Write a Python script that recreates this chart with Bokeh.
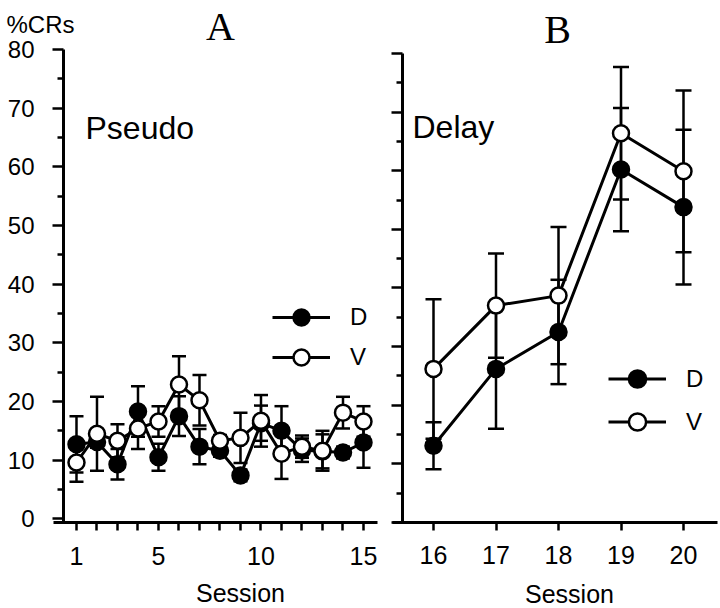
from bokeh.plotting import figure
from bokeh.models import (ColumnDataSource, Whisker, TeeHead, FixedTicker, Label,
                          Legend, LegendItem, Range1d)
from bokeh.layouts import row
from bokeh.embed import file_html
from bokeh.resources import INLINE

# ---- data ----
sessions_a = list(range(1, 16))
d_a = [12.7, 13.1, 9.3, 18.3, 10.5, 17.5, 12.3, 11.6, 7.4, 16.3, 15.0, 11.7, 11.5, 11.3, 13.0]
d_a_err = [4.8, 1.0, 2.6, 4.3, 2.3, 3.4, 3.0, 1.0, 1.0, 3.0, 4.2, 2.0, 2.9, 1.0, 4.3]
v_a = [9.6, 14.5, 13.3, 15.4, 16.6, 22.9, 20.2, 13.3, 13.8, 16.7, 11.1, 12.3, 11.6, 18.1, 16.6]
v_a_err = [3.3, 6.3, 2.8, 3.5, 2.6, 4.8, 4.3, 1.0, 4.3, 4.4, 4.3, 1.9, 3.4, 2.7, 2.6]

sessions_b = [16, 17, 18, 19, 20]
d_b = [13.1, 26.2, 32.5, 60.2, 53.8]
d_b_err = [4.0, 10.2, 8.9, 10.5, 13.2]
v_b = [26.2, 37.0, 38.7, 66.4, 59.9]
v_b_err = [11.9, 8.9, 11.7, 11.3, 13.8]

y_ticks = [0, 10, 20, 30, 40, 50, 60, 70, 80]
y_minor = [5, 15, 25, 35, 45, 55, 65, 75]
x_labels_a = [1, 5, 10, 15]

SANS = "Liberation Sans"
SERIF = "Liberation Serif"
LW = 3


def make_fig(w, h, xr, yr, yaxis_at, ybounds, xaxis_at, xbounds):
    p = figure(width=w, height=h, x_range=Range1d(*xr), y_range=Range1d(*yr),
               min_border=0, min_border_left=0, min_border_right=0,
               min_border_top=0, min_border_bottom=0,
               output_backend="svg", toolbar_location=None)
    p.outline_line_color = None
    p.xgrid.visible = False
    p.ygrid.visible = False
    p.background_fill_color = "white"
    p.border_fill_color = "white"
    for ax in (p.xaxis[0], p.yaxis[0]):
        ax.axis_line_width = LW
        ax.axis_line_color = "black"
        ax.major_tick_line_width = 2.5
        ax.minor_tick_line_width = 2.5
        ax.major_tick_line_color = "black"
        ax.minor_tick_line_color = "black"
        ax.major_tick_in = 0
        ax.minor_tick_in = 0
        ax.major_label_text_font = SANS
        ax.major_label_text_color = "black"
    p.yaxis.fixed_location = yaxis_at
    p.yaxis.bounds = ybounds
    p.xaxis.fixed_location = xaxis_at
    p.xaxis.bounds = xbounds
    p.yaxis.ticker = FixedTicker(ticks=y_ticks, minor_ticks=y_minor)
    p.yaxis.major_tick_out = 11
    p.yaxis.minor_tick_out = 6
    p.yaxis.major_label_text_font_size = "24px"
    p.yaxis.major_label_standoff = 18
    p.xaxis.major_tick_out = 8
    p.xaxis.minor_tick_out = 8
    p.xaxis.major_label_text_font_size = "25px"
    p.xaxis.major_label_standoff = 16
    return p


def add_series(p, xs, d, de, v, ve, cap):
    src_d = ColumnDataSource(dict(x=xs, y=d, up=[a + b for a, b in zip(d, de)],
                                  lo=[a - b for a, b in zip(d, de)]))
    src_v = ColumnDataSource(dict(x=xs, y=v, up=[a + b for a, b in zip(v, ve)],
                                  lo=[a - b for a, b in zip(v, ve)]))
    for src in (src_d, src_v):
        w = Whisker(source=src, base="x", upper="up", lower="lo", dimension="height",
                    line_width=2.5, line_color="black",
                    upper_head=TeeHead(size=cap, line_width=2.5, line_color="black"),
                    lower_head=TeeHead(size=cap, line_width=2.5, line_color="black"))
        p.add_layout(w)
    ld = p.line("x", "y", source=src_d, line_width=LW, line_color="black")
    lv = p.line("x", "y", source=src_v, line_width=LW, line_color="black")
    sd = p.scatter("x", "y", source=src_d, size=16, marker="circle",
                   fill_color="black", line_color="black", line_width=2.5)
    sv = p.scatter("x", "y", source=src_v, size=16, marker="circle",
                   fill_color="white", line_color="black", line_width=2.5)
    return ld, lv, sd, sv


def add_legend(p, rs, loc, gh):
    ld, lv, sd, sv = rs
    leg = Legend(items=[LegendItem(label="D", renderers=[ld, sd]),
                        LegendItem(label="V", renderers=[lv, sv])],
                 location=loc, orientation="vertical",
                 glyph_width=58, glyph_height=gh, label_height=gh,
                 label_standoff=20, spacing=0, padding=0, margin=0,
                 border_line_color=None, background_fill_alpha=0,
                 label_text_font=SANS, label_text_font_size="24px",
                 label_text_color="black")
    p.add_layout(leg)


def text(p, x, y, t, font, size, align="left"):
    p.add_layout(Label(x=x, y=y, x_units="screen", y_units="screen", text=t,
                       text_font=font, text_font_size=size, text_align=align,
                       text_baseline="alphabetic", text_color="black"))


H = 608

# ---- panel A ----
pa = make_fig(382, H, (-2.707, 15.927), (-15.29, 88.36),
              0.366, (-0.63, 80), -0.63, (-0.122, 15.683))
pa.xaxis.ticker = FixedTicker(ticks=x_labels_a,
                              minor_ticks=[s for s in sessions_a if s not in x_labels_a])
ra = add_series(pa, sessions_a, d_a, d_a_err, v_a, v_a_err, 14)
add_legend(pa, ra, (272, 230.7), 40)
text(pa, 220, 582, "A", SERIF, "40px", "center")
text(pa, 6, 584, "%CRs", SANS, "24px")
text(pa, 85, 481, "Pseudo", SANS, "32px")
text(pa, 240, 16, "Session", SANS, "25px", "center")

# ---- panel B ----
pb = make_fig(338, H, (15.184, 20.592), (-14.67, 89.04),
              15.504, (0, 80), 0, (15.344, 20.544))
pb.xaxis.ticker = FixedTicker(ticks=sessions_b, minor_ticks=[])
pb.yaxis.major_label_text_color = None
rb = add_series(pb, sessions_b, d_b, d_b_err, v_b, v_b_err, 16)
add_legend(pb, rb, (226, 164.8), 43)
text(pb, 175, 579, "B", SERIF, "40px", "center")
text(pb, 30, 482, "Delay", SANS, "32px")
text(pb, 187, 15, "Session", SANS, "25px", "center")

layout = row(pa, pb, spacing=0)
open("out.html", "w").write(file_html(layout, INLINE))
